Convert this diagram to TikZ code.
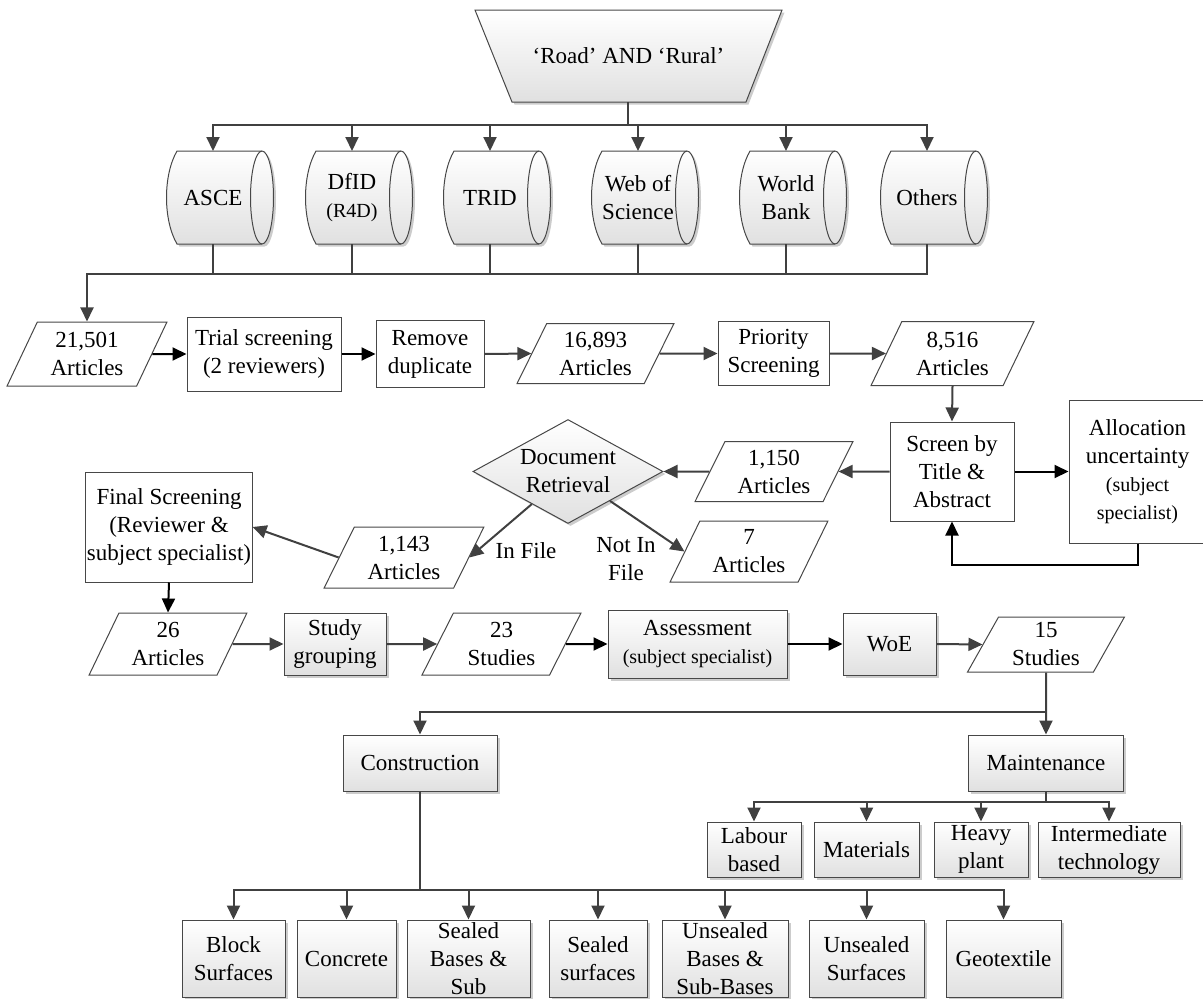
\documentclass[tikz,border=0pt]{standalone}
\usepackage{fontspec}
\setmainfont{Liberation Serif}
\usetikzlibrary{shapes.geometric,arrows.meta,shadows}
\newcommand\mfont{\fontsize{23}{28}\selectfont}
\newcommand\sfont{\fontsize{20}{26}\selectfont}
\definecolor{lc}{HTML}{404040}
\definecolor{bc}{HTML}{474747}
\tikzset{
  gfill/.style={top color=white, bottom color=gray!24,
    drop shadow={shadow xshift=2.5pt, shadow yshift=-2.5pt, opacity=0.2, fill=black}},
  box/.style={draw=bc, line width=1pt, fill=white, rectangle, inner sep=1pt},
  gbox/.style={draw=bc, line width=1pt, rectangle, inner sep=1pt, gfill},
  para/.style={draw=bc, line width=1pt, fill=white, trapezium, trapezium left angle=63,
    trapezium right angle=117, trapezium stretches=true, inner sep=0pt},
  arr/.style={draw=lc, line width=2pt, -{Triangle[length=14pt,width=13pt]}},
  barr/.style={draw=black, line width=2pt, -{Triangle[length=14pt,width=13pt]}},
  ln/.style={draw=lc, line width=2pt},
}
\newcommand\cyl[3]{%
  \path[gfill, draw=bc, line width=1pt] (#2-36,151) -- (#2+49,151)
    arc[start angle=90, end angle=-90, x radius=11.5pt, y radius=46.5pt]
    -- (#2-36,244) .. controls (#2-50,220) and (#2-50,175) .. (#2-36,151) -- cycle;
  \draw[draw=bc, line width=1pt] (#2+49,151)
    arc[start angle=90, end angle=270, x radius=11.5pt, y radius=46.5pt];
  \node (#1) at (#2,197.5) {#3};
  \coordinate (#1t) at (#2,151);
  \coordinate (#1b) at (#2,244);
}
\begin{document}
\begin{tikzpicture}[x=1pt,y=-1pt,
  every node/.style={font=\mfont, align=center}]
\useasboundingbox (0,0) rectangle (1203,999);

% top query (manual trapezium)
\path[gfill, draw=bc, line width=1pt] (475,10) -- (782,10) -- (746,102) -- (512,102) -- cycle;
\node (q) at (628.5,56) {‘Road’ AND ‘Rural’};
\coordinate (qb) at (628,102);

% databases
\cyl{c1}{213}{ASCE}
\cyl{c2}{352}{DfID\\{\sfont (R4D)}}
\cyl{c3}{490}{TRID}
\cyl{c4}{638}{Web of\\Science}
\cyl{c5}{786}{World\\Bank}
\cyl{c6}{927}{Others}

% row 2
\node[para, minimum width=160, minimum height=64] (p1) at (87,354) {21,501\\Articles};
\node[box, minimum width=154, minimum height=74] (trial) at (264,354) {Trial screening\\(2 reviewers)};
\node[box, minimum width=108, minimum height=67] (rem) at (430,354) {Remove\\duplicate};
\node[para, minimum width=157, minimum height=60] (p2) at (595.5,353.5) {16,893\\Articles};
\node[box, minimum width=111, minimum height=64] (prio) at (773.5,353.5) {Priority\\Screening};
\node[para, minimum width=163, minimum height=64] (p3) at (952.5,353.5) {8,516\\Articles};

% row 3
\node[box, minimum width=124, minimum height=99] (scr) at (952,471.5) {Screen by\\Title \&\\Abstract};
\node[box, minimum width=137, minimum height=143] (alloc) at (1137.5,471.5)
  {Allocation\\uncertainty\\{\sfont (subject}\\{\sfont specialist)}};
\node[para, minimum width=158, minimum height=60] (p4) at (774,471.5) {1,150\\Articles};
\node[diamond, aspect=1.83, minimum width=190, minimum height=104, inner sep=0pt,
  draw=bc, line width=1pt, gfill] (dr) at (568,471.5) {Document\\Retrieval};
\node[para, minimum width=160, minimum height=61] (p5) at (404,557.5) {1,143\\Articles};
\node[para, minimum width=158, minimum height=61] (p6) at (749,551.5) {7\\Articles};
\node[box, minimum width=166, minimum height=110] (final) at (169,527)
  {Final Screening\\(Reviewer \&\\subject specialist)};
\node (lin) at (526,551) {In File};
\node (lnot) at (626,559) {Not In\\File};

% row 4
\node[para, minimum width=158, minimum height=62] (p7) at (168,644) {26\\Articles};
\node[gbox, minimum width=102, minimum height=62] (study) at (335,644) {Study\\grouping};
\node[para, minimum width=159, minimum height=62] (p8) at (501.5,644) {23\\Studies};
\node[gbox, minimum width=179, minimum height=68] (assess) at (697.5,644)
  {Assessment\\{\sfont (subject specialist)}};
\node[gbox, minimum width=93, minimum height=62] (woe) at (889.5,644) {WoE};
\node[para, minimum width=157, minimum height=55] (p9) at (1046,644.5) {15\\Studies};

% categories
\node[gbox, minimum width=154, minimum height=56] (cons) at (420,763) {Construction};
\node[gbox, minimum width=155, minimum height=56] (maint) at (1046,763) {Maintenance};

\node[gbox, minimum width=94, minimum height=55] (m1) at (754,849.5) {Labour\\based};
\node[gbox, minimum width=105, minimum height=55] (m2) at (866.5,849.5) {Materials};
\node[gbox, minimum width=94, minimum height=55] (m3) at (981,849.5) {Heavy\\plant};
\node[gbox, minimum width=142, minimum height=55] (m4) at (1109,849.5) {Intermediate\\technology};

\node[gbox, minimum width=103, minimum height=77] (b1) at (233.5,958.5) {Block\\Surfaces};
\node[gbox, minimum width=99, minimum height=77] (b2) at (346.5,958.5) {Concrete};
\node[gbox, minimum width=123, minimum height=77, inner sep=0pt] (b3) at (468.5,958.5) {Sealed\\Bases \&\\Sub};
\node[gbox, minimum width=98, minimum height=77] (b4) at (598,958.5) {Sealed\\surfaces};
\node[gbox, minimum width=126, minimum height=77, inner sep=0pt] (b5) at (725,958.5) {Unsealed\\Bases \&\\Sub-Bases};
\node[gbox, minimum width=115, minimum height=77] (b6) at (866.5,958.5) {Unsealed\\Surfaces};
\node[gbox, minimum width=115, minimum height=77] (b7) at (1003.5,958.5) {Geotextile};

% connectors: query to databases
\foreach \c in {c1,c2,c3,c4,c5,c6}
  \draw[arr] (qb) -- ++(0,23) -| (\c t);
\foreach \c in {c1,c2,c3,c4,c5}
  \draw[ln] (\c b) -- ++(0,30);
\draw[arr] (c6b) -- ++(0,30) -| (p1.north);

% row 2
\draw[barr] (p1.east) -- (trial.west);
\draw[barr] (trial.east) -- (rem.west);
\draw[arr] (rem.east) -- (p2.west);
\draw[arr] (p2.east) -- (prio.west);
\draw[arr] (prio.east) -- (p3.west);
\draw[arr] (p3.south) -- (scr.north);

% row 3
\draw[barr] (scr.east) -- (alloc.west);
\draw[barr] (alloc.south) -- ++(0,21) -| (scr.south);
\draw[arr] (scr.west) -- (p4.east);
\draw[arr] (p4.west) -- (dr.east);
\draw[arr] (dr.222) -- (p5.east);
\draw[arr] (dr.-35) -- (p6.west);
\draw[arr] (p5.west) -- (final.east);
\draw[barr] (final.south) -- (p7.north);

% row 4
\draw[arr] (p7.east) -- (study.west);
\draw[arr] (study.east) -- (p8.west);
\draw[barr] (p8.east) -- (assess.west);
\draw[barr] (assess.east) -- (woe.west);
\draw[arr] (woe.east) -- (p9.west);
\draw[arr] (p9.south) -- (maint.north);
\draw[arr] (p9.south) -- ++(0,39.5) -| (cons.north);

% children
\foreach \m in {m1,m2,m3,m4}
  \draw[arr] (maint.south) -- ++(0,10) -| (\m.north);
\foreach \b in {b1,b2,b3,b4,b5,b6,b7}
  \draw[arr] (cons.south) -- ++(0,98) -| (\b.north);
\end{tikzpicture}
\end{document}
